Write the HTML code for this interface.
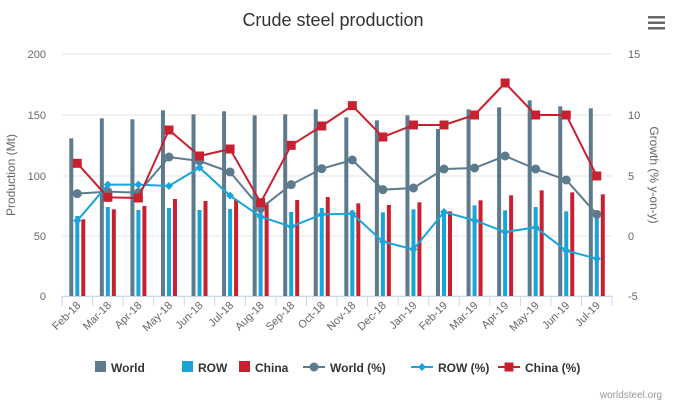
<!DOCTYPE html><html><head><style>body{margin:0;background:#fff}svg{display:block;font-family:"Liberation Sans",sans-serif}</style></head><body>
<svg id="s" width="687" height="405" xmlns="http://www.w3.org/2000/svg">
<text x="333" y="26" text-anchor="middle" font-size="18" fill="#333">Crude steel production</text>
<g fill="#666"><rect x="648" y="16" width="17" height="2.5"/><rect x="648" y="21.5" width="17" height="2.5"/><rect x="648" y="27" width="17" height="2.5"/></g>
<text x="631" y="398" text-anchor="middle" font-size="10" fill="#999">worldsteel.org</text>
<text transform="translate(15,175) rotate(-90)" text-anchor="middle" font-size="12" fill="#666">Production (Mt)</text>
<text transform="translate(650,175) rotate(90)" text-anchor="middle" font-size="12" fill="#666">Growth (% y-on-y)</text>
</svg>
<script>
const s=document.getElementById('s'),NS='http://www.w3.org/2000/svg';
function el(t,a,txt){const e=document.createElementNS(NS,t);for(const k in a)e.setAttribute(k,a[k]);if(txt!=null)e.textContent=txt;s.appendChild(e);return e;}
const ys=[54,115,176,236,296],L=['200','150','100','50','0'],R=['15','10','5','0','-5'];
ys.forEach((y,i)=>{el('line',{x1:62,x2:612,y1:y,y2:y,stroke:'#e6e6e6'});el('text',{x:46,y:y+4,'text-anchor':'end','font-size':11,fill:'#666'},L[i]);el('text',{x:628,y:y+4,'text-anchor':'start','font-size':11,fill:'#666'},R[i]);});
el('line',{x1:62,x2:612,y1:296.5,y2:296.5,stroke:'#ccd6eb'});
const cats=['Feb-18','Mar-18','Apr-18','May-18','Jun-18','Jul-18','Aug-18','Sep-18','Oct-18','Nov-18','Dec-18','Jan-19','Feb-19','Mar-19','Apr-19','May-19','Jun-19','Jul-19'];
const w=30.56,cx=i=>62+w/2+w*i;
const Y=z=>40+z/3;
const wb=[295,235,238,211,223,214,226,223,208,232,241,226,267,208,202,181,199,205];
const rb=[528,501,510,504,510,507,500,516,504,511,517,508,512,496,511,501,514,530];
const cb=[538,508,498,477,483,480,488,480,471,490,495,487,514,481,466,451,457,463];
const wp=[461,455,458,351,363,396,505,434,386,360,449,444,387,384,348,387,420,523];
const rp=[542,434,434,438,383,467,530,560,523,521,605,628,516,541,576,562,632,656];
const cp=[370,472,474,270,348,327,488,316,258,197,291,255,255,225,129,225,225,408];
for(let i=0;i<=18;i++){const x=62+w*i;el('line',{x1:x,x2:x,y1:296,y2:306,stroke:'#ccd6eb'});}
cats.forEach((c,i)=>{const x=cx(i);
el('rect',{x:x-8,y:Y(wb[i]),width:4,height:296-Y(wb[i]),fill:'#5d7b8d'});
el('rect',{x:x-2,y:Y(rb[i]),width:4,height:296-Y(rb[i]),fill:'#17a5da'});
el('rect',{x:x+4,y:Y(cb[i]),width:4,height:296-Y(cb[i]),fill:'#c9202f'});
el('text',{transform:`translate(${x+4},306) rotate(-45)`,'text-anchor':'end','font-size':11,fill:'#666'},c);});
function line(d,col,m){el('polyline',{points:d.map((z,i)=>cx(i)+','+Y(z)).join(' '),fill:'none',stroke:col,'stroke-width':2});
d.forEach((z,i)=>{const x=cx(i),y=Y(z);if(m=='c')el('circle',{cx:x,cy:y,r:4.5,fill:col});else if(m=='s')el('rect',{x:x-4.5,y:y-4.5,width:9,height:9,fill:col});else el('path',{d:`M${x} ${y-4}L${x+4} ${y}L${x} ${y+4}L${x-4} ${y}Z`,fill:col});});}
line(wp,'#5d7b8d','c');line(rp,'#17a5da','d');line(cp,'#c9202f','s');
const ly=372;
[[95,'#5d7b8d','World'],[182,'#17a5da','ROW'],[239,'#c9202f','China']].forEach(a=>{el('rect',{x:a[0],y:ly-11,width:11,height:11,fill:a[1]});el('text',{x:a[0]+16,y:ly,'font-size':12,'font-weight':'bold',fill:'#333'},a[2]);});
[[303,'#5d7b8d','World (%)','c'],[411,'#17a5da','ROW (%)','d'],[498,'#c9202f','China (%)','s']].forEach(a=>{const y=ly-5,x=a[0]+11;el('line',{x1:a[0],x2:a[0]+22,y1:y,y2:y,stroke:a[1],'stroke-width':2});
if(a[3]=='c')el('circle',{cx:x,cy:y,r:4.5,fill:a[1]});else if(a[3]=='s')el('rect',{x:x-4.5,y:y-4.5,width:9,height:9,fill:a[1]});else el('path',{d:`M${x} ${y-4}L${x+4} ${y}L${x} ${y+4}L${x-4} ${y}Z`,fill:a[1]});
el('text',{x:a[0]+27,y:ly,'font-size':12,'font-weight':'bold',fill:'#333'},a[2]);});
</script></body></html>
